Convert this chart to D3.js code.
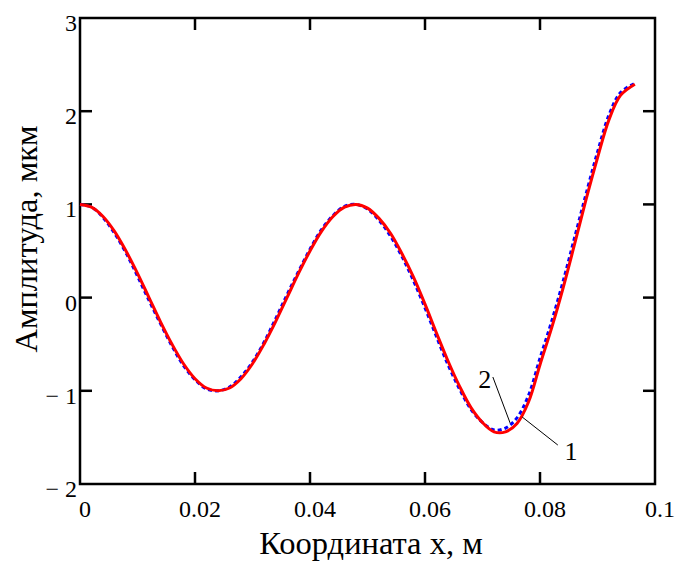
<!DOCTYPE html>
<html lang="ru">
<head>
  <meta charset="UTF-8">
  <title>Амплитуда</title>

  <style>
    body {
      margin: 0;
      background-color: #ffffff;
    }
    svg {
      background-color: #ffffff;
      font-family: "Liberation Serif", "Times New Roman", serif;
    }
    .frame {
      fill: none;
      stroke: #000000;
      stroke-width: 2.5;
    }
    .tick-mark {
      stroke: #000000;
      stroke-width: 2.5;
    }
    .tick-label {
      font-size: 24px;
      fill: #000000;
    }
    .axis-title {
      font-size: 32.5px;
      fill: #000000;
    }
    .curve-1 {
      fill: none;
      stroke: #ff0000;
      stroke-width: 3;
    }
    .curve-2 {
      fill: none;
      stroke: #0000ff;
      stroke-width: 3;
      stroke-dasharray: 4, 3;
    }
    .leader {
      stroke: #000000;
      stroke-width: 1;
    }
  </style>

  <script type="text/javascript" src="https://d3js.org/d3.v7.min.js"></script>
</head>

<body>
</body>

<script type="text/javascript">

  // координата x, м
  var xs = [0, 0.002, 0.004, 0.006, 0.008, 0.010, 0.012, 0.014, 0.016, 0.018,
            0.020, 0.022, 0.024, 0.026, 0.028, 0.030, 0.032, 0.034, 0.036, 0.038,
            0.040, 0.042, 0.044, 0.046, 0.048, 0.050, 0.052, 0.054, 0.056, 0.058,
            0.060, 0.062, 0.064, 0.066, 0.068, 0.070, 0.072, 0.074, 0.076, 0.078,
            0.080, 0.082, 0.084, 0.086, 0.088, 0.090, 0.092, 0.094, 0.0965];

  // кривая 1 (красная)
  var curve1 = [1.00, 0.97, 0.87, 0.71, 0.50, 0.26, 0.00, -0.26, -0.50, -0.71,
                -0.87, -0.97, -1.00, -0.97, -0.87, -0.71, -0.50, -0.26, 0.00, 0.26,
                0.50, 0.71, 0.87, 0.97, 1.00, 0.96, 0.85, 0.69, 0.47, 0.22,
                -0.07, -0.38, -0.68, -0.95, -1.18, -1.34, -1.44, -1.44, -1.35, -1.12,
                -0.72, -0.33, 0.10, 0.57, 1.05, 1.50, 1.91, 2.17, 2.29];

  // кривая 2 (синяя, пунктир)
  var curve2 = [1.00, 0.97, 0.86, 0.69, 0.48, 0.23, -0.03, -0.28, -0.52, -0.73,
                -0.88, -0.98, -1.00, -0.96, -0.85, -0.69, -0.48, -0.23, 0.03, 0.28,
                0.52, 0.73, 0.88, 0.98, 1.00, 0.95, 0.83, 0.66, 0.44, 0.18,
                -0.11, -0.42, -0.72, -0.98, -1.20, -1.34, -1.42, -1.40, -1.29, -1.05,
                -0.65, -0.26, 0.17, 0.64, 1.11, 1.56, 1.96, 2.20, 2.30];

  var xTicks = [0, 0.02, 0.04, 0.06, 0.08, 0.1];
  var xTickLabels = ["0", "0.02", "0.04", "0.06", "0.08", "0.1"];
  var yTicks = [-2, -1, 0, 1, 2, 3];
  var yTickLabels = ["\u2212 2", "\u2212 1", "0", "1", "2", "3"];

  // подписи кривых: [номер, x подписи, y подписи, x1, y1, x2, y2]
  var callouts = [
    ["2", 0.0704, -0.97, 0.0718, -0.852, 0.0748, -1.345],
    ["1", 0.0854, -1.743, 0.0831, -1.582, 0.0769, -1.281]
  ];

  var width = 675, height = 562;
  var plotLeft = 80, plotRight = 655, plotTop = 18, plotBottom = 484;
  var tickLen = 12;

  var svg = d3.select("body")
    .append("svg")
    .attr("width", width)
    .attr("height", height);

  var x = d3.scaleLinear().domain([0, 0.1]).range([plotLeft, plotRight]);
  var y = d3.scaleLinear().domain([-2, 3]).range([plotBottom, plotTop]);

  // рамка
  svg.append("rect")
    .attr("class", "frame")
    .attr("x", plotLeft)
    .attr("y", plotTop)
    .attr("width", plotRight - plotLeft)
    .attr("height", plotBottom - plotTop);

  // засечки внутрь, со всех сторон
  var innerX = xTicks.slice(1, -1);
  var innerY = yTicks.slice(1, -1);

  var marks = svg.append("g");
  marks.selectAll("line.xb").data(innerX).enter()
    .append("line")
    .attr("class", "tick-mark xb")
    .attr("x1", function(d) { return x(d); })
    .attr("x2", function(d) { return x(d); })
    .attr("y1", plotBottom)
    .attr("y2", plotBottom - tickLen);
  marks.selectAll("line.xt").data(innerX).enter()
    .append("line")
    .attr("class", "tick-mark xt")
    .attr("x1", function(d) { return x(d); })
    .attr("x2", function(d) { return x(d); })
    .attr("y1", plotTop)
    .attr("y2", plotTop + tickLen);
  marks.selectAll("line.yl").data(innerY).enter()
    .append("line")
    .attr("class", "tick-mark yl")
    .attr("x1", plotLeft)
    .attr("x2", plotLeft + tickLen)
    .attr("y1", function(d) { return y(d); })
    .attr("y2", function(d) { return y(d); });
  marks.selectAll("line.yr").data(innerY).enter()
    .append("line")
    .attr("class", "tick-mark yr")
    .attr("x1", plotRight)
    .attr("x2", plotRight - tickLen)
    .attr("y1", function(d) { return y(d); })
    .attr("y2", function(d) { return y(d); });

  // подписи делений
  svg.append("g").selectAll("text").data(xTicks).enter()
    .append("text")
    .attr("class", "tick-label")
    .attr("text-anchor", "middle")
    .attr("x", function(d) { return x(d) + 5; })
    .attr("y", plotBottom + 33)
    .text(function(d, i) { return xTickLabels[i]; });

  svg.append("g").selectAll("text").data(yTicks).enter()
    .append("text")
    .attr("class", "tick-label")
    .attr("text-anchor", "end")
    .attr("x", plotLeft - 3)
    .attr("y", function(d) { return y(d) + 13; })
    .text(function(d, i) { return yTickLabels[i]; });

  // кривые
  var line = d3.line()
    .x(function(d) { return x(d[0]); })
    .y(function(d) { return y(d[1]); })
    .curve(d3.curveCatmullRom.alpha(0.5));

  svg.append("path")
    .attr("class", "curve-2")
    .attr("d", line(d3.zip(xs, curve2)));

  svg.append("path")
    .attr("class", "curve-1")
    .attr("d", line(d3.zip(xs, curve1)));

  // выноски
  var notes = svg.append("g");
  notes.selectAll("line").data(callouts).enter()
    .append("line")
    .attr("class", "leader")
    .attr("x1", function(d) { return x(d[3]); })
    .attr("y1", function(d) { return y(d[4]); })
    .attr("x2", function(d) { return x(d[5]); })
    .attr("y2", function(d) { return y(d[6]); });
  notes.selectAll("text").data(callouts).enter()
    .append("text")
    .attr("class", "tick-label")
    .style("font-size", "26px")
    .attr("text-anchor", "middle")
    .attr("x", function(d) { return x(d[1]); })
    .attr("y", function(d) { return y(d[2]); })
    .text(function(d) { return d[0]; });

  // названия осей
  svg.append("text")
    .attr("class", "axis-title")
    .attr("text-anchor", "middle")
    .attr("x", 371)
    .attr("y", 554)
    .text("Координата x, м");

  svg.append("text")
    .attr("class", "axis-title")
    .attr("text-anchor", "middle")
    .attr("transform", "translate(37, 239) rotate(-90)")
    .text("Амплитуда, мкм");

</script>

</html>
